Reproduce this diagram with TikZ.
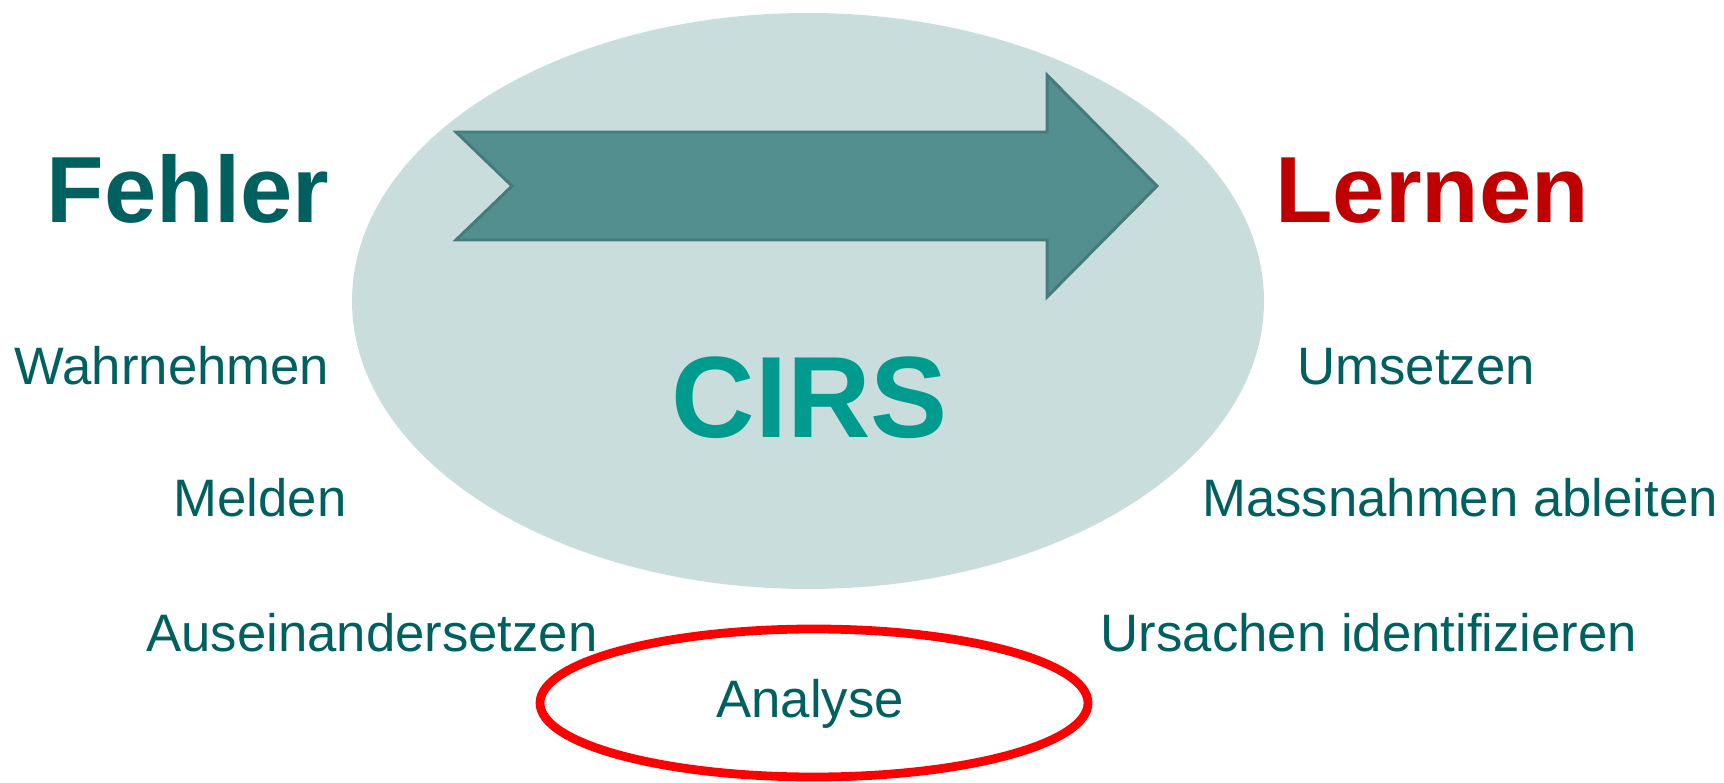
\documentclass[tikz,border=0pt]{standalone}
\usepackage{fontspec}
\setmainfont{Liberation Sans}
\usetikzlibrary{shapes.geometric, positioning}
\definecolor{CIRSDark}{RGB}{0,95,95}
\definecolor{CIRSTeal}{RGB}{0,155,143}
\definecolor{CIRSPale}{RGB}{202,221,221}
\definecolor{CIRSArrow}{RGB}{83,143,143}
\definecolor{CIRSRed}{RGB}{192,0,0}

\begin{document}
\begin{tikzpicture}[x=0.02cm, y=-0.02cm,
          step label/.style={anchor=base, inner sep=0pt, text=CIRSDark,
                     font=\fontsize{30pt}{36pt}\selectfont},
          head label/.style={anchor=base, inner sep=0pt,
                     font=\fontsize{53.5pt}{60pt}\selectfont\bfseries}
        ]
        \useasboundingbox (0,0) rectangle (1724,783);

        % background ellipse and arrow
        \fill[CIRSPale] (808,301) ellipse [x radius=456, y radius=288];
        \draw[fill=CIRSArrow, draw=CIRSArrow!85!black, line width=1.7pt,
              line join=miter]
              (456,132) -- (1047,132) -- (1047,75) -- (1157,186)
              -- (1047,297) -- (1047,240) -- (456,240) -- (512,186) -- cycle;

        \node[head label, text=CIRSDark] (fehler) at (188,223) {Fehler};
        \node[head label, text=CIRSRed]  (lernen) at (1432,223) {Lernen};
        \node[anchor=base, inner sep=0pt, text=CIRSTeal,
              font=\fontsize{65.8pt}{72pt}\selectfont\bfseries]
              (cirs) at (810,438) {CIRS};

        \node[step label] (wahrnehmen) at (172,385) {Wahrnehmen};
        \node[step label] (melden)     at (260,517) {Melden};
        \node[step label] (auseinander) at (372,651) {Auseinandersetzen};

        \node[step label] (umsetzen)   at (1416,385) {Umsetzen};
        \node[step label] (massnahmen) at (1460,517) {Massnahmen ableiten};
        \node[step label] (ursachen)   at (1369,651) {Ursachen identifizieren};

        % highlighted step
        \draw[red, line width=5pt] (814,703) ellipse [x radius=274, y radius=74];
        \node[step label] (analyse) at (810,717) {Analyse};
      \end{tikzpicture}
\end{document}
